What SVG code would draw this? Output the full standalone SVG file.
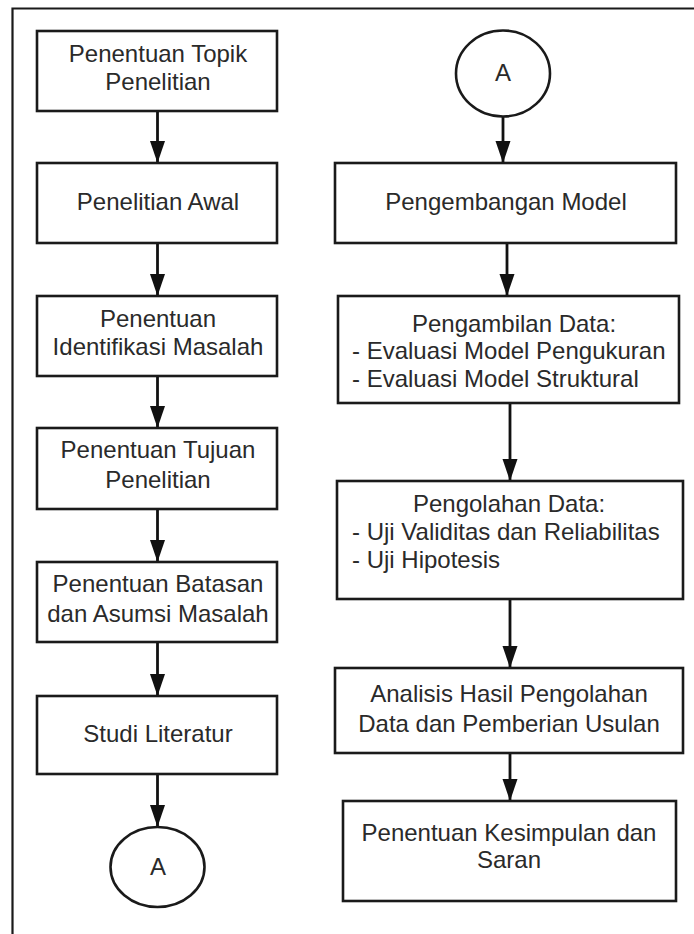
<svg xmlns="http://www.w3.org/2000/svg" width="694" height="934" viewBox="0 0 694 934">
<style>
.box{fill:#fff;stroke:#1a1a1a;stroke-width:2.6}
.t{font-family:"Liberation Sans",Arial,sans-serif;font-size:24px;fill:#2a2a2a;text-anchor:middle}
.tl{font-family:"Liberation Sans",Arial,sans-serif;font-size:24px;fill:#2a2a2a;text-anchor:start}
.c{stroke:#111;stroke-width:2.8;fill:none}
</style>
<defs>
<marker id="ah" markerUnits="userSpaceOnUse" markerWidth="24" markerHeight="16" refX="22" refY="7.5" orient="auto">
<path d="M0,0 L22,7.5 L0,15 z" fill="#111"/>
</marker>
</defs>
<rect width="694" height="934" fill="#fff"/>
<path d="M12.5,940 L12.5,8.5 L700,8.5" fill="none" stroke="#1a1a1a" stroke-width="2.2"/>

<g id="connectors">
<line class="c" x1="157.5" y1="111" x2="157.5" y2="163" marker-end="url(#ah)"/>
<line class="c" x1="157.5" y1="243" x2="157.5" y2="296" marker-end="url(#ah)"/>
<line class="c" x1="157.5" y1="376" x2="157.5" y2="428" marker-end="url(#ah)"/>
<line class="c" x1="157.5" y1="509" x2="157.5" y2="562" marker-end="url(#ah)"/>
<line class="c" x1="157.5" y1="642" x2="157.5" y2="696" marker-end="url(#ah)"/>
<line class="c" x1="157.5" y1="774" x2="157.5" y2="827" marker-end="url(#ah)"/>
<line class="c" x1="503" y1="117" x2="503" y2="163" marker-end="url(#ah)"/>
<line class="c" x1="507" y1="243" x2="507" y2="296" marker-end="url(#ah)"/>
<line class="c" x1="510" y1="403" x2="510" y2="481" marker-end="url(#ah)"/>
<line class="c" x1="510" y1="599" x2="510" y2="668" marker-end="url(#ah)"/>
<line class="c" x1="510" y1="753" x2="510" y2="801" marker-end="url(#ah)"/>
</g>

<g id="n1"><rect class="box" x="37" y="31" width="240" height="80"/>
<text class="t" x="158" y="62">Penentuan Topik</text><text class="t" x="158" y="90">Penelitian</text></g>
<g id="n2"><rect class="box" x="37" y="163" width="240" height="80"/>
<text class="t" x="158" y="210">Penelitian Awal</text></g>
<g id="n3"><rect class="box" x="37" y="296" width="240" height="80"/>
<text class="t" x="158" y="327">Penentuan</text><text class="t" x="158" y="355">Identifikasi Masalah</text></g>
<g id="n4"><rect class="box" x="37" y="428" width="240" height="81"/>
<text class="t" x="158" y="458">Penentuan Tujuan</text><text class="t" x="158" y="488">Penelitian</text></g>
<g id="n5"><rect class="box" x="37" y="562" width="240" height="80"/>
<text class="t" x="158" y="592">Penentuan Batasan</text><text class="t" x="158" y="622">dan Asumsi Masalah</text></g>
<g id="n6"><rect class="box" x="37" y="696" width="240" height="78"/>
<text class="t" x="158" y="742">Studi Literatur</text></g>
<g id="n7"><ellipse class="box" cx="157.5" cy="867" rx="47" ry="40" stroke-width="2"/>
<text class="t" x="158" y="875">A</text></g>

<g id="n8"><ellipse class="box" cx="503" cy="73.5" rx="47" ry="43" stroke-width="2"/>
<text class="t" x="503" y="81">A</text></g>
<g id="n9"><rect class="box" x="335" y="163" width="341" height="80"/>
<text class="t" x="506" y="210">Pengembangan Model</text></g>
<g id="n10"><rect class="box" x="338" y="296" width="341" height="107"/>
<text class="t" x="514" y="332">Pengambilan Data:</text>
<text class="tl" x="352" y="359">- Evaluasi Model Pengukuran</text>
<text class="tl" x="352" y="387">- Evaluasi Model Struktural</text></g>
<g id="n11"><rect class="box" x="337" y="481" width="346" height="118"/>
<text class="t" x="509" y="512">Pengolahan Data:</text>
<text class="tl" x="352" y="540">- Uji Validitas dan Reliabilitas</text>
<text class="tl" x="352" y="568">- Uji Hipotesis</text></g>
<g id="n12"><rect class="box" x="335" y="668" width="348" height="85"/>
<text class="t" x="509" y="702">Analisis Hasil Pengolahan</text>
<text class="t" x="509" y="732">Data dan Pemberian Usulan</text></g>
<g id="n13"><rect class="box" x="343" y="801" width="333" height="100"/>
<text class="t" x="509" y="841">Penentuan Kesimpulan dan</text>
<text class="t" x="509" y="868">Saran</text></g>
</svg>
